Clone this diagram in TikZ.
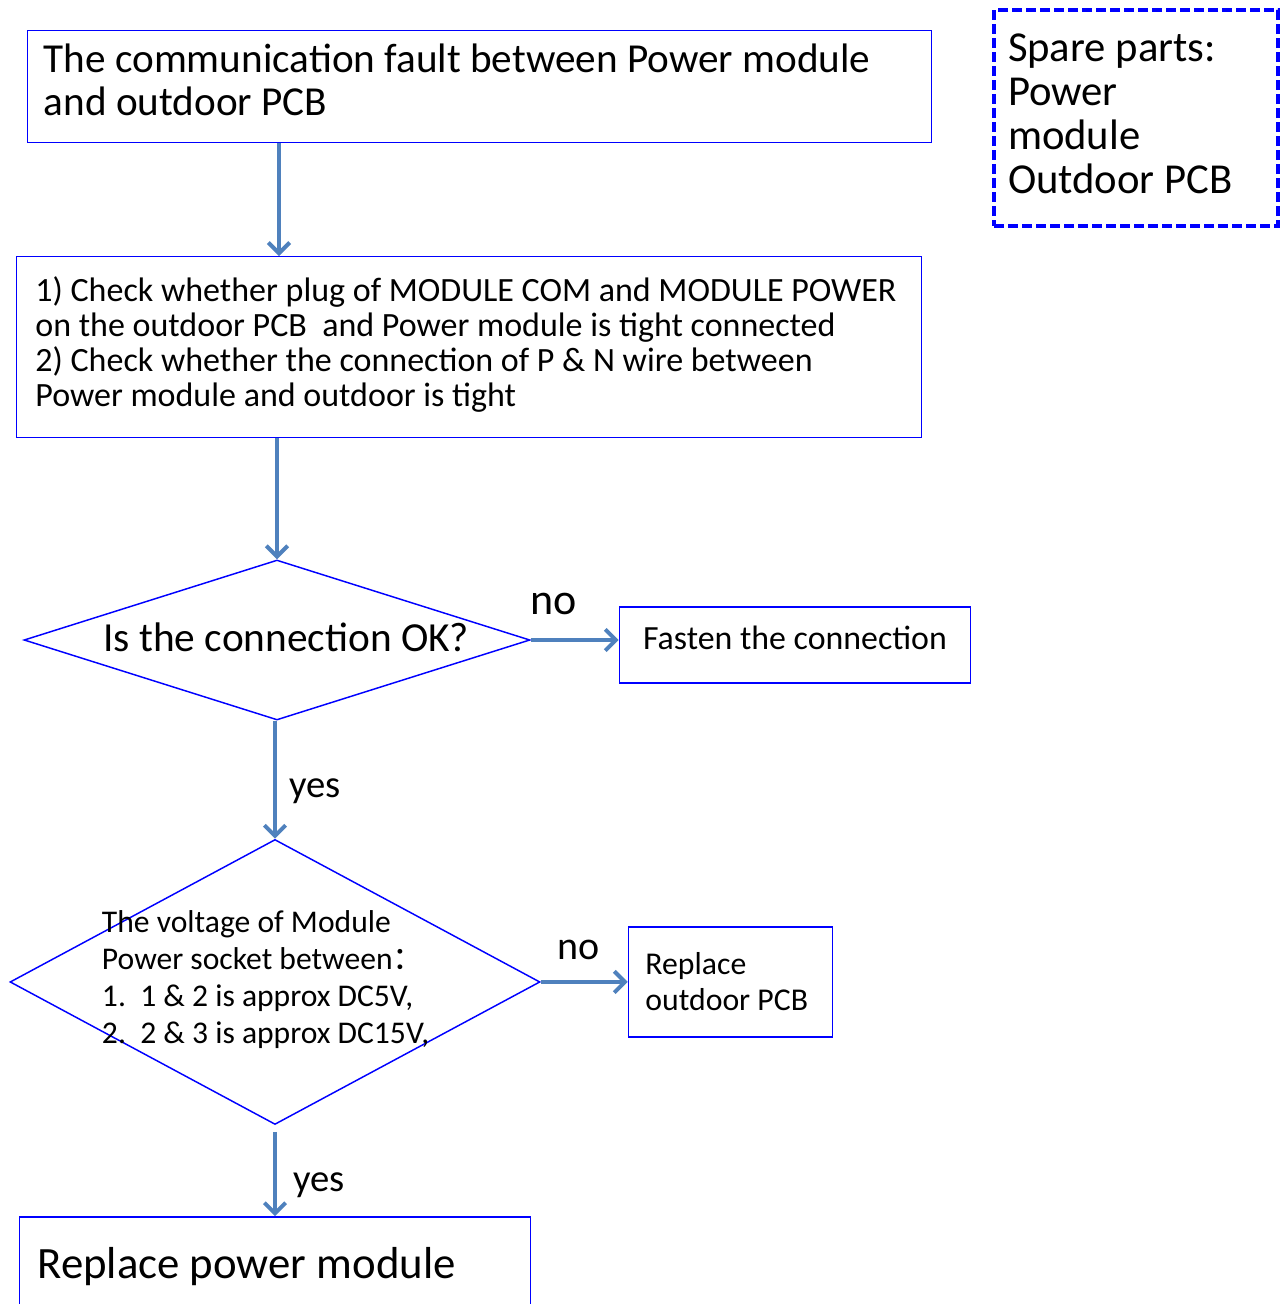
\documentclass[tikz,border=0pt]{standalone}
\usepackage{fontspec}
\setmainfont{Carlito}
\newfontfamily\cjkfont{Noto Sans CJK SC}
\usepackage{xcolor}
\usepackage{tikz}
\usetikzlibrary{positioning, arrows.meta, shapes.geometric}
\definecolor{flowblue}{HTML}{4F81BD}

\begin{document}
\begin{tikzpicture}[x=0.75pt, y=-0.75pt,
    box/.style={draw=blue, line width=1.1pt, align=left, inner xsep=12pt,
      execute at begin node={\spaceskip=0pt\xspaceskip=0pt\relax}},
    decision/.style={diamond, draw=blue, line width=1.1pt, inner sep=0pt},
    flow/.style={draw=flowblue, line width=3pt, -{Straight Barb[length=8pt, width=16pt]}},
    every label/.style={font=\fontsize{31}{34}\selectfont}]
    \useasboundingbox (0,0) rectangle (1282,1304);
    \node[box, anchor=north west, inner ysep=0pt, text width=654pt, text height=31.5pt, text depth=52.5pt, minimum height=84pt, font=\fontsize{30.9}{32.25}\selectfont] (fault) at (27,30) {The communication fault between Power module\\and outdoor PCB};
    \node[box, anchor=north west, inner xsep=14pt, inner ysep=0pt, text width=650.75pt, text height=33.75pt, text depth=102pt, minimum height=135.75pt, font=\fontsize{25.5}{26.25}\selectfont] (check) at (16,256) {1) Check whether plug of MODULE COM and MODULE POWER\\on the outdoor PCB\ \ and Power module is tight connected\\2) Check whether the connection of P \& N wire between\\Power module and outdoor is tight};
    \node[box, anchor=north west, dashed, line width=3pt, dash pattern=on 7.5pt off 3pt, inner xsep=10.5pt, inner ysep=0pt, text width=192pt, text height=38.25pt, text depth=123.75pt, minimum height=162pt, font=\fontsize{32}{33}\selectfont] (spare) at (992,8) {Spare parts:\\Power\\module\\Outdoor PCB};
    \node[decision, minimum width=379.5pt, minimum height=120pt, label={[xshift=7pt, yshift=2pt]center:Is the connection OK?}] (connok) at (277,640) {};
    \node[box, right=66pt of connok, yshift=-3.75pt, minimum width=263.25pt, minimum height=57pt, text depth=11pt, align=center, font=\fontsize{25.4}{27}\selectfont] (fasten) {Fasten the connection};
    \node[decision, below=88.5pt of connok, xshift=-1.5pt, minimum width=397.5pt, minimum height=213.75pt, label={[xshift=-7pt, yshift=1.5pt, align=left, font=\fontsize{23.7}{27.75}\selectfont]center:The voltage of Module\\Power socket between{\cjkfont ：}\\1.\ \ 1 \& 2 is approx DC5V,\\2.\ \ 2 \& 3 is approx DC15V,}] (volt) {};
    \node[box, right=65.25pt of volt, inner xsep=12.75pt, text width=127.5pt, minimum height=82.5pt, font=\fontsize{23.8}{27}\selectfont] (pcb) {Replace\\outdoor PCB};
    \node[box, below=68.25pt of volt, inner xsep=13.5pt, text width=356.25pt, minimum height=75pt, font=\fontsize{33.6}{40}\selectfont] (power) {Replace power module};

    \draw[flow] ([xshift=1.5pt]connok.north |- fault.south) -- ([xshift=1.5pt]connok.north |- check.north);
    \draw[flow] (connok.north |- check.south) -- (connok.north);
    \draw[flow] (connok.east) -- (connok.east -| fasten.west) node[pos=0.26, above=14pt, font=\fontsize{33}{36}\selectfont] {no};
    \draw[flow] (volt.north |- connok.south) -- (volt.north) node[pos=0.6, right=6pt, font=\fontsize{29}{32}\selectfont] {yes};
    \draw[flow] (volt.east) -- (volt.east -| pcb.west) node[pos=0.43, above=12pt, font=\fontsize{30}{33}\selectfont] {no};
    \draw[flow, shorten <=5pt] (volt.south) -- (power.north) node[pos=0.66, right=9pt, font=\fontsize{29}{32}\selectfont] {yes};
\end{tikzpicture}
\end{document}
